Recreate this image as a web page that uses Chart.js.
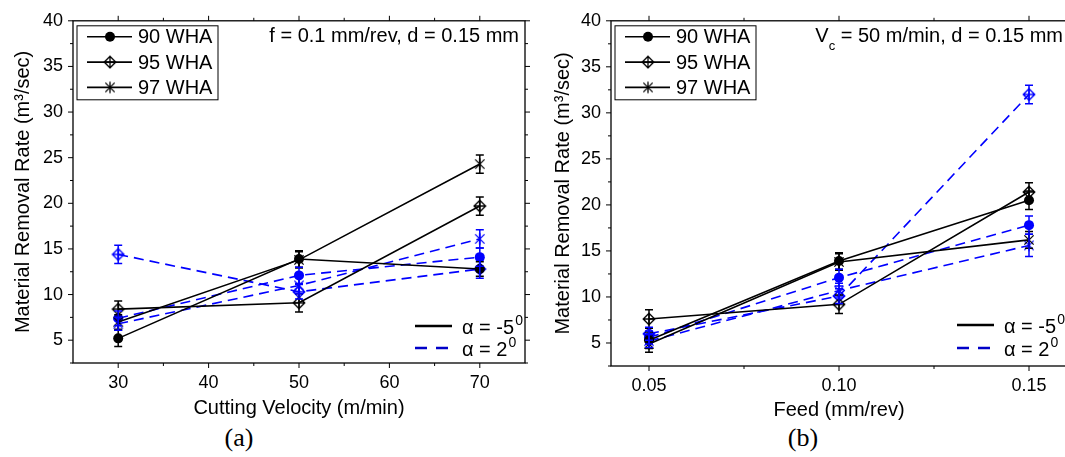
<!DOCTYPE html>
<html>
<head>
<meta charset="utf-8">
<script src="https://cdn.jsdelivr.net/npm/chart.js@4.4.1/dist/chart.umd.min.js"></script>
<style>
  html, body { margin:0; padding:0; background:#fff; overflow:hidden; width:1065px; height:457px; }
  .panel { position:absolute; top:0; }
  #wrapA { left:0; }
  #wrapB { left:540px; }
  .cap { position:absolute; top:423px; line-height:30px; font-family:"Liberation Serif","Times New Roman",serif; font-size:26px; color:#000; transform:translateX(-50%); }
</style>
</head>
<body>
<div class="panel" id="wrapA"><canvas id="chartA" width="545" height="420"></canvas></div>
<div class="panel" id="wrapB"><canvas id="chartB" width="547" height="422"></canvas></div>
<div class="cap" style="left:239px">(a)</div>
<div class="cap" style="left:803px">(b)</div>
<script>
// two panels of material removal rate vs cutting velocity / feed
const FONT = '"Liberation Sans", Arial, sans-serif';
const BLACK = '#000000';
const BLUE = '#0000ff';

const yTickValues = [2.5, 5, 7.5, 10, 12.5, 15, 17.5, 20, 22.5, 25, 27.5, 30, 32.5, 35, 37.5, 40];
const yTickLabels = ['', '5', '', '10', '', '15', '', '20', '', '25', '', '30', '', '35', '', '40'];
const grades = ['90 WHA', '95 WHA', '97 WHA'];
const gradeMarkers = ['circle', 'diamond', 'asterisk'];
const rakeLabels = ['\u03b1 = -5', '\u03b1 = 2'];

// (a) cutting velocity, f = 0.1 mm/rev
const velocity = [30, 50, 70];
const velTickValues = [30, 35, 40, 45, 50, 55, 60, 65, 70];
const velTickLabels = ['30', '', '40', '', '50', '', '60', '', '70'];
const vel90Neg5 = [5.2, 13.9, 12.8];
const vel95Neg5 = [8.4, 9.1, 19.7];
const vel97Neg5 = [7.0, 13.8, 24.3];
const vel90Pos2 = [7.4, 12.1, 14.1];
const vel95Pos2 = [14.4, 10.3, 12.8];
const vel97Pos2 = [6.8, 11.0, 16.1];
const velErr90Neg5 = [0.9, 0.9, 0.8];
const velErr95Neg5 = [0.9, 1.0, 1.0];
const velErr97Neg5 = [0.8, 0.9, 1.0];
const velErr90Pos2 = [0.8, 0.9, 1.0];
const velErr95Pos2 = [1.0, 0.8, 1.0];
const velErr97Pos2 = [0.7, 0.9, 1.0];

// (b) feed, Vc = 50 m/min
const feed = [0.05, 0.10, 0.15];
const feedTickValues = [0.05, 0.075, 0.10, 0.125, 0.15];
const feedTickLabels = ['0.05', '', '0.10', '', '0.15'];
const feed90Neg5 = [5.3, 13.9, 20.5];
const feed95Neg5 = [7.6, 9.2, 21.4];
const feed97Neg5 = [4.9, 13.8, 16.2];
const feed90Pos2 = [5.6, 12.1, 17.8];
const feed95Pos2 = [6.0, 10.1, 32.0];
const feed97Pos2 = [5.2, 10.7, 15.6];
const feedErr90Neg5 = [0.9, 0.9, 1.0];
const feedErr95Neg5 = [1.0, 1.0, 1.0];
const feedErr97Neg5 = [0.9, 0.9, 0.9];
const feedErr90Pos2 = [0.7, 0.9, 1.0];
const feedErr95Pos2 = [0.7, 0.8, 1.0];
const feedErr97Pos2 = [0.7, 0.8, 1.2];

const markerCache = {};
function markerImage(kind, color){
  const key = kind + color;
  if(markerCache[key]) return markerCache[key];
  const c = document.createElement('canvas');
  c.width = 14; c.height = 14;
  const g = c.getContext('2d');
  const m = 7, r = 5.8;
  g.strokeStyle = color;
  g.lineWidth = 1.3;
  g.beginPath();
  if(kind === 'diamond'){
    g.moveTo(m, m - r); g.lineTo(m + r, m); g.lineTo(m, m + r); g.lineTo(m - r, m); g.closePath();
    g.moveTo(m - r, m); g.lineTo(m + r, m);
    g.moveTo(m, m - r); g.lineTo(m, m + r);
  } else {
    const d = r * 0.8;
    g.moveTo(m - d, m - d); g.lineTo(m + d, m + d);
    g.moveTo(m + d, m - d); g.lineTo(m - d, m + d);
    g.moveTo(m, m - r); g.lineTo(m, m + r);
  }
  g.stroke();
  markerCache[key] = c;
  return c;
}

function series(xs, ys, errs, color, marker, dashed){
  return {
    data: xs.map((x, i) => ({x: x, y: ys[i]})),
    errors: errs,
    borderColor: color,
    backgroundColor: color,
    borderWidth: 1.6,
    borderDash: dashed ? [10, 6] : [],
    pointStyle: marker === 'circle' ? 'circle' : markerImage(marker, color),
    pointRadius: 5,
    pointBorderWidth: 0,
    tension: 0
  };
}

function drawErrorBars(chart){
  const {ctx, scales: {x, y}} = chart;
  chart.data.datasets.forEach(ds => {
    ctx.save();
    ctx.strokeStyle = ds.borderColor;
    ctx.lineWidth = 1.5;
    ctx.setLineDash([]);
    ctx.beginPath();
    ds.data.forEach((p, j) => {
      const px = x.getPixelForValue(p.x);
      const top = y.getPixelForValue(p.y + ds.errors[j]);
      const bot = y.getPixelForValue(p.y - ds.errors[j]);
      ctx.moveTo(px, top); ctx.lineTo(px, bot);
      ctx.moveTo(px - 4, top); ctx.lineTo(px + 4, top);
      ctx.moveTo(px - 4, bot); ctx.lineTo(px + 4, bot);
    });
    ctx.stroke();
    ctx.restore();
  });
}

function drawFrame(chart){
  const {ctx, chartArea: a, scales: {x, y}} = chart;
  ctx.save();
  ctx.strokeStyle = BLACK;
  ctx.lineWidth = 1.3;
  ctx.strokeRect(a.left, a.top, a.right - a.left, a.bottom - a.top);
  ctx.lineWidth = 1;
  ctx.beginPath();
  x.ticks.forEach(t => {
    const px = x.getPixelForValue(t.value);
    const len = t.label ? 5 : 3;
    ctx.moveTo(px, a.bottom); ctx.lineTo(px, a.bottom + len);
    ctx.moveTo(px, a.top); ctx.lineTo(px, a.top - len);
  });
  y.ticks.forEach(t => {
    const py = y.getPixelForValue(t.value);
    const len = t.label ? 5 : 3;
    ctx.moveTo(a.left, py); ctx.lineTo(a.left - len, py);
    ctx.moveTo(a.right, py); ctx.lineTo(a.right + len, py);
  });
  ctx.stroke();
  ctx.restore();
}

function drawGradeLegend(chart){
  const {ctx, chartArea: a} = chart;
  const bx = a.left + 4, by = a.top + 5;
  ctx.save();
  ctx.strokeStyle = BLACK;
  ctx.lineWidth = 1;
  ctx.strokeRect(bx, by, 141, 74);
  ctx.font = '20px ' + FONT;
  ctx.textBaseline = 'middle';
  ctx.fillStyle = BLACK;
  grades.forEach((g, i) => {
    const ry = by + 11 + i * 25.3;
    ctx.lineWidth = 1.6;
    ctx.beginPath();
    ctx.moveTo(bx + 10, ry); ctx.lineTo(bx + 55, ry);
    ctx.stroke();
    const mk = gradeMarkers[i];
    if(mk === 'circle'){
      ctx.beginPath(); ctx.arc(bx + 33, ry, 5, 0, Math.PI * 2); ctx.fill();
    } else {
      ctx.drawImage(markerImage(mk, BLACK), bx + 33 - 7, ry - 7);
    }
    ctx.fillText(g, bx + 61, ry + 1);
  });
  ctx.restore();
}

function drawRakeLegend(chart, opts){
  const {ctx, chartArea: a} = chart;
  const rows = [a.bottom - opts.rakeY[0], a.bottom - opts.rakeY[1]];
  ctx.save();
  ctx.textBaseline = 'middle';
  rakeLabels.forEach((lbl, i) => {
    const ry = rows[i];
    ctx.strokeStyle = i === 0 ? BLACK : '#0000c8';
    ctx.lineWidth = 2.5;
    ctx.setLineDash(i === 0 ? [] : [12, 9]);
    ctx.beginPath();
    ctx.moveTo(a.right - 110, ry); ctx.lineTo(a.right - 73, ry);
    ctx.stroke();
    ctx.fillStyle = BLACK;
    ctx.font = '20px ' + FONT;
    const tx = a.right - 63;
    ctx.fillText(lbl, tx, ry + 2);
    const w = ctx.measureText(lbl).width;
    ctx.font = '14px ' + FONT;
    ctx.fillText('0', tx + w + 1, ry - 5);
  });
  ctx.restore();
}

function drawNote(chart, opts){
  const {ctx, chartArea: a} = chart;
  ctx.save();
  ctx.fillStyle = BLACK;
  ctx.textBaseline = 'middle';
  const fonts = opts.note.map(p => (p.sub ? '13px ' : '20px ') + FONT);
  const widths = opts.note.map((p, i) => { ctx.font = fonts[i]; return ctx.measureText(p.text).width; });
  let tx = a.right - opts.noteRight - widths.reduce((s, w) => s + w, 0);
  const ty = a.top + 16;
  opts.note.forEach((p, i) => {
    ctx.font = fonts[i];
    ctx.fillText(p.text, tx, p.sub ? ty + 10 : ty);
    tx += widths[i];
  });
  ctx.restore();
}

const deco = {
  id: 'deco',
  afterDatasetsDraw(chart){ drawErrorBars(chart); },
  afterDraw(chart, args, opts){
    drawFrame(chart);
    drawGradeLegend(chart);
    drawRakeLegend(chart, opts);
    drawNote(chart, opts);
  }
};

function makeChart(id, cfg){
  return new Chart(document.getElementById(id), {
    type: 'line',
    data: { datasets: cfg.datasets },
    options: {
      responsive: false,
      animation: false,
      layout: { padding: { top: cfg.top, right: 20, left: 0, bottom: 0 }, autoPadding: false },
      plugins: {
        legend: { display: false },
        tooltip: { enabled: false },
        deco: { note: cfg.note, noteRight: cfg.noteRight, rakeY: cfg.rakeY }
      },
      scales: {
        x: {
          type: 'linear', min: cfg.xMin, max: cfg.xMax,
          afterBuildTicks: s => { s.ticks = cfg.xTicks.map(v => ({value: v})); },
          afterFit: s => { s.height = cfg.xHeight; },
          grid: { display: false, drawTicks: false },
          border: { display: false },
          ticks: { padding: 9, color: BLACK, autoSkip: false, maxRotation: 0,
                   font: { family: FONT, size: 18 },
                   callback: (v, i) => cfg.xLabels[i] },
          title: { display: true, text: cfg.xTitle, color: BLACK,
                   font: { family: FONT, size: 20 }, padding: { top: 0, bottom: 0 } }
        },
        y: {
          type: 'linear', min: 2.5, max: 40,
          afterBuildTicks: s => { s.ticks = yTickValues.map(v => ({value: v})); },
          afterFit: s => { s.width = cfg.yWidth; },
          grid: { display: false, drawTicks: false },
          border: { display: false },
          ticks: { padding: 10, color: BLACK, autoSkip: false,
                   font: { family: FONT, size: 18 },
                   callback: (v, i) => yTickLabels[i] },
          title: { display: true, text: 'Material Removal Rate (m\u00b3/sec)', color: BLACK,
                   font: { family: FONT, size: 20 }, padding: { top: 11, bottom: 0 } }
        }
      }
    },
    plugins: [deco]
  });
}

makeChart('chartA', {
  top: 20, yWidth: 73, xHeight: 57,
  xMin: 25, xMax: 75, xTicks: velTickValues, xLabels: velTickLabels,
  xTitle: 'Cutting Velocity (m/min)',
  note: [{text: 'f = 0.1 mm/rev, d = 0.15 mm'}], noteRight: 6,
  rakeY: [37, 15],
  datasets: [
    series(velocity, vel90Neg5, velErr90Neg5, BLACK, 'circle', false),
    series(velocity, vel95Neg5, velErr95Neg5, BLACK, 'diamond', false),
    series(velocity, vel97Neg5, velErr97Neg5, BLACK, 'asterisk', false),
    series(velocity, vel90Pos2, velErr90Pos2, BLUE, 'circle', true),
    series(velocity, vel95Pos2, velErr95Pos2, BLUE, 'diamond', true),
    series(velocity, vel97Pos2, velErr97Pos2, BLUE, 'asterisk', true)
  ]
});

makeChart('chartB', {
  top: 19, yWidth: 71, xHeight: 56,
  xMin: 0.04, xMax: 0.16, xTicks: feedTickValues, xLabels: feedTickLabels,
  xTitle: 'Feed (mm/rev)',
  note: [{text: 'V'}, {text: 'c', sub: true}, {text: ' = 50 m/min, d = 0.15 mm'}], noteRight: 4,
  rakeY: [41, 18],
  datasets: [
    series(feed, feed90Neg5, feedErr90Neg5, BLACK, 'circle', false),
    series(feed, feed95Neg5, feedErr95Neg5, BLACK, 'diamond', false),
    series(feed, feed97Neg5, feedErr97Neg5, BLACK, 'asterisk', false),
    series(feed, feed90Pos2, feedErr90Pos2, BLUE, 'circle', true),
    series(feed, feed95Pos2, feedErr95Pos2, BLUE, 'diamond', true),
    series(feed, feed97Pos2, feedErr97Pos2, BLUE, 'asterisk', true)
  ]
});
</script>
</body>
</html>
